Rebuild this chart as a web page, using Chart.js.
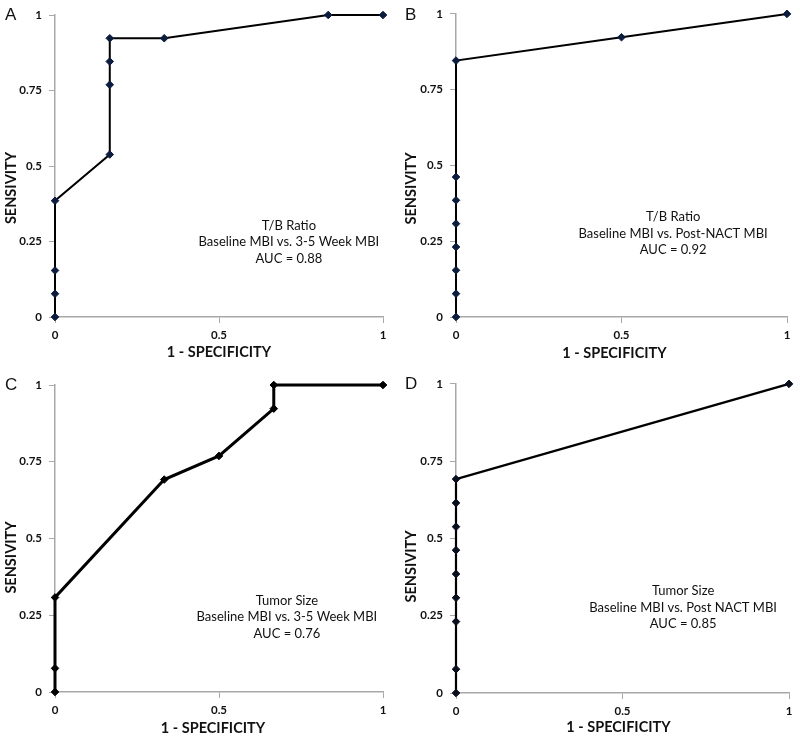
<!DOCTYPE html>
<html>
<head>
<meta charset="utf-8">
<script src="https://cdn.jsdelivr.net/npm/chart.js@4/dist/chart.umd.min.js"></script>
<style>
  html, body { margin: 0; padding: 0; background: #fff; }
  #wrap { position: relative; width: 800px; height: 739px; }
  .panel { position: absolute; }
  .panel canvas { display: block; }
</style>
</head>
<body>
<div id="wrap">
  <div class="panel" style="left:0;top:0;width:400px;height:370px"><canvas id="chartA"></canvas></div>
  <div class="panel" style="left:400px;top:0;width:400px;height:370px"><canvas id="chartB"></canvas></div>
  <div class="panel" style="left:0;top:370px;width:400px;height:369px"><canvas id="chartC"></canvas></div>
  <div class="panel" style="left:400px;top:370px;width:400px;height:369px"><canvas id="chartD"></canvas></div>
</div>
<script>
// tick values shared by all four panels
const xTicks = [0, 0.5, 1];
const yTicks = [0, 0.25, 0.5, 0.75, 1];
const xTitle = '1 - SPECIFICITY';
const yTitle = 'SENSIVITY';

// A: T/B ratio, baseline vs 3-5 week
const fprA  = [0, 0, 0, 0, 0.167, 0.167, 0.167, 0.167, 0.333, 0.833, 1];
const sensA = [0, 0.077, 0.154, 0.385, 0.538, 0.769, 0.846, 0.923, 0.923, 1, 1];
const noteA = ['T/B Ratio', 'Baseline MBI vs. 3-5 Week MBI', 'AUC = 0.88'];

// B: T/B ratio, baseline vs post-NACT
const fprB  = [0, 0, 0, 0, 0, 0, 0, 0, 0.5, 1];
const sensB = [0, 0.077, 0.154, 0.231, 0.308, 0.385, 0.462, 0.846, 0.923, 1];
const noteB = ['T/B Ratio', 'Baseline MBI vs. Post-NACT MBI', 'AUC = 0.92'];

// C: tumor size, baseline vs 3-5 week
const fprC  = [0, 0, 0, 0.333, 0.5, 0.667, 0.667, 1];
const sensC = [0, 0.077, 0.308, 0.692, 0.769, 0.923, 1, 1];
const noteC = ['Tumor Size', 'Baseline MBI vs. 3-5 Week MBI', 'AUC = 0.76'];

// D: tumor size, baseline vs post NACT
const fprD  = [0, 0, 0, 0, 0, 0, 0, 0, 0, 1];
const sensD = [0, 0.077, 0.231, 0.308, 0.385, 0.462, 0.538, 0.615, 0.692, 1];
const noteD = ['Tumor Size', 'Baseline MBI vs. Post NACT MBI', 'AUC = 0.85'];

const FONT = 'Lato, "Open Sans", sans-serif';
const AXIS_GREY = '#a8a8a8';

// panel letter, axis titles and the AUC note
const notesPlugin = {
  id: 'notes',
  afterDraw(chart, args, opts) {
    const ctx = chart.ctx;
    const area = chart.chartArea;
    const xs = chart.scales.x, ys = chart.scales.y;
    ctx.save();
    ctx.fillStyle = '#111';
    ctx.textBaseline = 'middle';

    ctx.font = '17px "Liberation Sans", Arial, sans-serif';
    ctx.textAlign = 'left';
    ctx.fillText(opts.letter, 5, opts.letterY);

    ctx.font = 'bold 14.5px ' + FONT;
    ctx.textAlign = 'center';
    ctx.fillText(xTitle, (area.left + area.right) / 2 + opts.xTitleDx, opts.xTitleY);

    ctx.save();
    ctx.translate(11, (area.top + area.bottom) / 2 + opts.yTitleDy);
    ctx.rotate(-Math.PI / 2);
    ctx.fillText(yTitle, 0, 0);
    ctx.restore();

    ctx.font = '13px ' + FONT;
    const cx = xs.getPixelForValue(opts.at[0]);
    const cy = ys.getPixelForValue(opts.at[1]);
    opts.lines.forEach((t, i) => {
      ctx.fillText(t, cx, cy + (i - 1) * 16.5);
    });
    ctx.restore();
  }
};

function makeChart(id, fpr, sens, note, cfg) {
  const points = fpr.map((x, i) => ({ x: x, y: sens[i] }));
  new Chart(document.getElementById(id), {
    type: 'scatter',
    data: {
      datasets: [{
        data: points,
        showLine: true,
        borderColor: '#000',
        borderWidth: cfg.lineWidth,
        pointStyle: 'rectRot',
        pointRadius: 3.8,
        pointBackgroundColor: cfg.markColor,
        pointBorderColor: cfg.markColor,
        pointBorderWidth: 1,
        clip: false
      }]
    },
    options: {
      responsive: true,
      maintainAspectRatio: false,
      animation: false,
      events: [],
      layout: { padding: { top: cfg.top, right: cfg.right, left: 0, bottom: 0 } },
      plugins: {
        legend: { display: false },
        tooltip: { enabled: false },
        notes: {
          letter: cfg.letter, letterY: cfg.letterY, lines: note, at: cfg.noteAt,
          xTitleY: cfg.xTitleY, xTitleDx: cfg.xTitleDx, yTitleDy: cfg.yTitleDy
        }
      },
      scales: {
        x: {
          type: 'linear',
          min: 0, max: 1,
          afterBuildTicks: s => { s.ticks = xTicks.map(v => ({ value: v })); },
          afterFit: s => { s.height = cfg.xAxisH; },
          grid: { drawOnChartArea: false, drawTicks: true, tickLength: 6, color: AXIS_GREY },
          border: { color: AXIS_GREY, width: 1.5 },
          ticks: { color: '#111', padding: 5, maxRotation: 0,
                   font: { family: FONT, size: 11.5, weight: 'bold' },
                   callback: v => String(v) }
        },
        y: {
          type: 'linear',
          min: 0, max: 1,
          afterBuildTicks: s => { s.ticks = yTicks.map(v => ({ value: v })); },
          afterFit: s => { s.width = cfg.yAxisW; },
          grid: { drawOnChartArea: false, drawTicks: true, tickLength: 6, color: AXIS_GREY },
          border: { color: AXIS_GREY, width: 1.5 },
          ticks: { color: '#111', padding: 7,
                   font: { family: FONT, size: 11.5, weight: 'bold' },
                   callback: v => String(v) }
        }
      }
    },
    plugins: [notesPlugin]
  });
}

makeChart('chartA', fprA, sensA, noteA, {
  letter: 'A', letterY: 15, top: 15, right: 17, yAxisW: 55, xAxisH: 53,
  lineWidth: 2, markColor: '#0b1c3f', noteAt: [0.713, 0.248],
  xTitleY: 352, xTitleDx: 0, yTitleDy: 22
});
makeChart('chartB', fprB, sensB, noteB, {
  letter: 'B', letterY: 15, top: 12, right: 13, yAxisW: 56, xAxisH: 53,
  lineWidth: 2, markColor: '#0b1c3f', noteAt: [0.656, 0.275],
  xTitleY: 353, xTitleDx: -7, yTitleDy: 23
});
makeChart('chartC', fprC, sensC, noteC, {
  letter: 'C', letterY: 15, top: 15, right: 17, yAxisW: 55, xAxisH: 47,
  lineWidth: 3, markColor: '#000', noteAt: [0.707, 0.244],
  xTitleY: 358, xTitleDx: -6, yTitleDy: 19
});
makeChart('chartD', fprD, sensD, noteD, {
  letter: 'D', letterY: 14, top: 12, right: 11, yAxisW: 56, xAxisH: 46,
  lineWidth: 2.2, markColor: '#0a0f1e', noteAt: [0.682, 0.276],
  xTitleY: 357, xTitleDx: -4, yTitleDy: 28
});
</script>
</body>
</html>
